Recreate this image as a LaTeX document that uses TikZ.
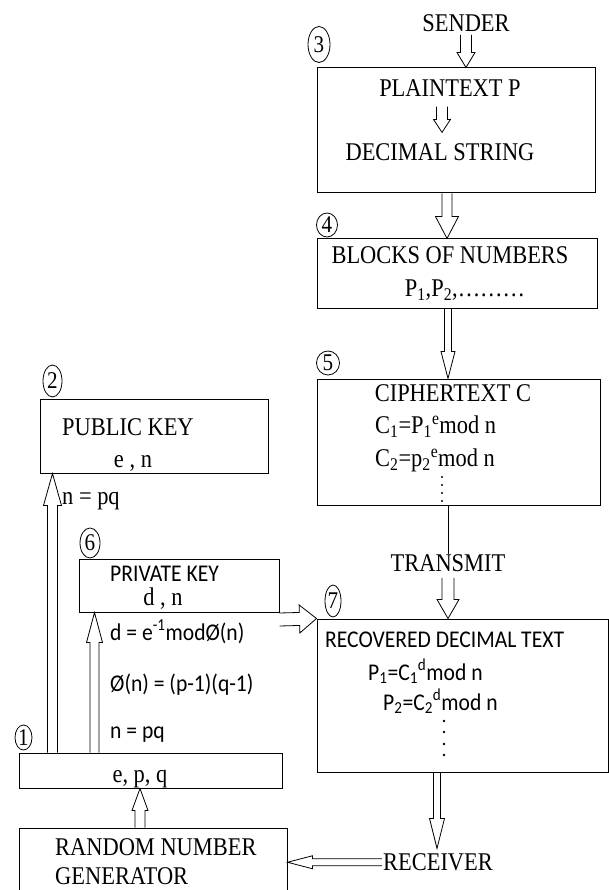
\documentclass[tikz,border=0pt]{standalone}
\usepackage{fontspec}
\setmainfont{Liberation Serif}[FakeStretch=0.88]
\newfontfamily\calib{Carlito}[FakeStretch=0.9]
\usetikzlibrary{calc,shapes.geometric}

\begin{document}
\begin{tikzpicture}[x=1pt,y=-1pt,
  box/.style={draw,line width=1pt,inner sep=0pt},
  lbl/.style={inner sep=0pt,font=\fontsize{25.5}{30}\selectfont},
  cal/.style={inner sep=0pt,font=\calib\fontsize{24}{28}\selectfont},
  tag/.style={draw,ellipse,line width=.8pt,inner sep=0pt,font=\fontsize{24}{28}\selectfont},
  arrow shaft/.store in=\arshaft, arrow head/.store in=\arhead, arrow len/.store in=\arlen,
  arrow shaft=5pt, arrow head=9pt, arrow len=16pt,
  hollow/.style={line width=.8pt,line join=miter,to path={
    let \p1=(\tikztostart), \p2=(\tikztotarget), \p3=($(\p2)!\arlen!(\p1)$) in
    ($(\p1)!\arshaft!90:(\p2)$) -- ($(\p3)!\arshaft!90:(\p2)$) -- ($(\p3)!\arhead!90:(\p2)$)
    -- (\p2) -- ($(\p3)!\arhead!-90:(\p2)$) -- ($(\p3)!\arshaft!-90:(\p2)$) -- ($(\p1)!\arshaft!-90:(\p2)$)}}]
  \useasboundingbox (0,0) rectangle (609,890);

  \node[box,minimum width=278pt,minimum height=125pt] (plain)   at (456,130.5) {};
  \node[box,minimum width=280pt,minimum height=69pt]  (blocks)  at (457,273.5) {};
  \node[box,minimum width=283pt,minimum height=126pt] (cipher)  at (458.5,442) {};
  \node[box,minimum width=291pt,minimum height=153pt] (recov)   at (462.5,695.5) {};
  \node[box,minimum width=228pt,minimum height=74pt]  (pubkey)  at (154,436) {};
  \node[box,minimum width=200pt,minimum height=53pt]  (privkey) at (179,585.5) {};
  \node[box,minimum width=263pt,minimum height=35pt]  (epq)     at (150.5,770.5) {};
  \node[box,minimum width=268pt,minimum height=65pt]  (rng)     at (153,860.5) {};

  \node[tag,minimum width=22pt,minimum height=36pt] (k3) at (319,44.5) {3};
  \node[tag,minimum width=21pt,minimum height=24pt] (k4) at (327,225) {4};
  \node[tag,minimum width=23pt,minimum height=24pt] (k5) at (328,363) {5};
  \node[tag,minimum width=19pt,minimum height=32pt] (k2) at (52.5,381) {2};
  \node[tag,minimum width=20pt,minimum height=30pt] (k6) at (90,543) {6};
  \node[tag,minimum width=16pt,minimum height=32pt] (k7) at (333,601) {7};
  \node[tag,minimum width=17pt,minimum height=25pt] (k1) at (23.5,737.5) {1};

  \node[lbl,anchor=base] (tsender) at (466,31.5) {SENDER};
  \node[lbl,anchor=base] (tplain) at (450,96.5) {PLAINTEXT P};
  \node[lbl,anchor=base] (tdec) at (440,160.5) {DECIMAL STRING};
  \node[lbl,anchor=base] (tblocks) at (450,263.5) {BLOCKS OF NUMBERS};
  \node[lbl,anchor=base] (tpseq) at (465,296.5) {P\textsubscript{1},P\textsubscript{2},………};
  \node[lbl,anchor=base] (tcipher) at (453,401.5) {CIPHERTEXT C};
  \node[lbl,anchor=base west] (tcone) at (375,433.5) {C\textsubscript{1}=P\textsubscript{1}\textsuperscript{e}mod n};
  \node[lbl,anchor=base west] (tctwo) at (375,466.5) {C\textsubscript{2}=p\textsubscript{2}\textsuperscript{e}mod n};
  \node[lbl,anchor=base] (ttransmit) at (448,571.5) {TRANSMIT};
  \node[cal,anchor=base west] (trecov) at (325,647) {RECOVERED DECIMAL TEXT};
  \node[cal,anchor=base west] (tpone) at (368,680) {P\textsubscript{1}=C\textsubscript{1}\textsuperscript{d}mod n};
  \node[cal,anchor=base west] (tptwo) at (383,710) {P\textsubscript{2}=C\textsubscript{2}\textsuperscript{d}mod n};
  \node[lbl,anchor=base] (treceiver) at (438,870.5) {RECEIVER};
  \node[lbl,anchor=base west] (tpub) at (62,435.5) {PUBLIC KEY};
  \node[lbl,anchor=base] (ten) at (133,467) {e , n};
  \node[lbl,anchor=base west] (tnpq) at (62,504) {n = pq};
  \node[cal,anchor=base west] (tpriv) at (110,581) {PRIVATE KEY};
  \node[lbl,anchor=base] (tdn) at (163,605) {d , n};
  \node[cal,anchor=base west] (tdeq) at (110,640) {d = e\textsuperscript{-1}modØ(n)};
  \node[cal,anchor=base west] (tphi) at (110,691) {Ø(n) = (p-1)(q-1)};
  \node[cal,anchor=base west] (tnpqb) at (110,738) {n = pq};
  \node[lbl,anchor=base] (tepq) at (140,782) {e, p, q};
  \node[lbl,anchor=base west] (trng) at (55,855) {RANDOM NUMBER};
  \node[lbl,anchor=base west] (tgen) at (55,884) {GENERATOR};

  \foreach \dy in {477,485,493,501} \fill (442,\dy) circle[radius=1.1pt];
  \foreach \dy in {721,732,744,755} \fill (444,\dy) circle[radius=1.3pt];

  \draw[hollow,arrow shaft=5.5pt,arrow head=9pt,arrow len=15pt] ($(tsender.south)+(0,3)$) to (tsender.south |- plain.north);
  \draw[hollow,arrow shaft=5.5pt,arrow head=8.5pt,arrow len=13pt] ($(tplain.south)+(-8,10)$) to ($(tdec.north)+(2,-11)$);
  \draw[hollow,arrow shaft=5pt,arrow head=11.5pt,arrow len=22pt] ($(plain.south)+(-9,0)$) to ($(blocks.north)+(-10,0)$);
  \draw[hollow,arrow shaft=3.5pt,arrow head=7pt,arrow len=27pt] ($(blocks.south)+(-9,0)$) to ($(cipher.north)+(-10.5,0)$);
  \draw[line width=.8pt] ($(cipher.south)+(-10.5,0)$) -- (ttransmit.north);
  \draw[hollow,arrow shaft=6pt,arrow head=11pt,arrow len=19pt] ($(ttransmit.south)+(0,6)$) to (ttransmit.south |- recov.north);
  \draw[hollow,arrow shaft=3.5pt,arrow head=7.5pt,arrow len=30pt] ($(recov.south)+(-25.5,0)$) to ($(treceiver.north)+(-1,-5)$);
  \draw[hollow,arrow shaft=3.5pt,arrow head=6.5pt,arrow len=25pt] ($(treceiver.west)+(-1,0)$) to (rng.east |- treceiver.west);
  \draw[hollow,arrow shaft=5pt,arrow head=8pt,arrow len=22pt] ($(rng.north)+(-13,0)$) to ($(epq.south)+(-10.5,0)$);
  \draw[hollow,arrow shaft=5pt,arrow head=9pt,arrow len=32pt] ($(epq.north west)+(34,0)$) to ($(pubkey.south west)+(13,0)$);
  \draw[hollow,arrow shaft=4.5pt,arrow head=8pt,arrow len=30pt] ($(epq.north west)+(76,0)$) to ($(privkey.south west)+(16,0)$);
  \draw[hollow,arrow shaft=6.5pt,arrow head=14pt,arrow len=17pt] ($(privkey.south east)+(0,7)$) to (recov.north west);
\end{tikzpicture}
\end{document}
